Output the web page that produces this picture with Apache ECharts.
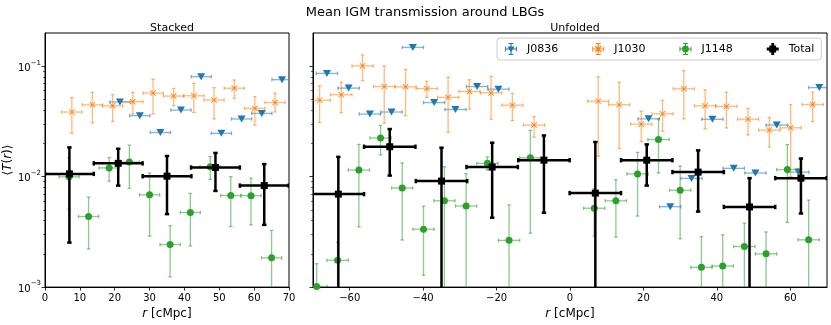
<!DOCTYPE html>
<html>
<head>
<meta charset="utf-8">
<script src="https://cdn.jsdelivr.net/npm/echarts@6/dist/echarts.min.js"></script>
<style>
  html, body { margin: 0; padding: 0; background: #fff; }
  #chart { width: 831px; height: 325px; }
</style>
</head>
<body>
<div id="chart"></div>
<script>
// half bin widths (x errors)
const xerrQso = 2.9
const xerrTotal = 7

// Stacked panel  [r, T]  /  [r, T, lower, upper]
const stackedJ0836 = [[21.5, 0.0475], [27.2, 0.0357], [33.1, 0.0251], [39.0, 0.0401], [44.8, 0.0804], [50.6, 0.0247], [56.4, 0.0333], [62.2, 0.0374], [68.0, 0.0756]]
const stackedJ1030 = [[7.7, 0.0385, 0.0247, 0.052], [13.6, 0.0447, 0.0307, 0.058], [19.4, 0.0438, 0.0316, 0.0553], [25.2, 0.0478, 0.037, 0.058], [31.0, 0.0571, 0.037, 0.0766], [36.9, 0.0537, 0.0439, 0.063], [42.7, 0.054, 0.0382, 0.07], [48.5, 0.0495, 0.0333, 0.064], [54.3, 0.0633, 0.0513, 0.075], [60.2, 0.0415, 0.0293, 0.053], [66.0, 0.0469, 0.0385, 0.0571]]
const stackedJ1148 = [[6.9, 0.00997, 0.00507, 0.0148], [12.5, 0.00436, 0.00221, 0.00653], [18.4, 0.012, 0.0091, 0.0149], [24.2, 0.01355, 0.00785, 0.0193], [30.0, 0.00685, 0.0029, 0.0108], [35.9, 0.00243, 0.00124, 0.0036], [41.7, 0.00474, 0.00236, 0.00706], [47.4, 0.0123, 0.00944, 0.0152], [53.3, 0.00676, 0.00353, 0.01], [59.1, 0.00673, 0.00366, 0.0097], [65.0, 0.00184, 0.0005, 0.00326]]
const stackedTotal = [[7.0, 0.0106, 0.00253, 0.0184], [21.0, 0.0132, 0.0083, 0.0179], [35.0, 0.0101, 0.00458, 0.0154], [48.9, 0.0121, 0.00743, 0.0164], [62.9, 0.0083, 0.00366, 0.013]]

// Unfolded panel
const unfoldedJ0836 = [[-66.2, 0.0861], [-60.3, 0.0634], [-54.5, 0.0369], [-48.6, 0.0385], [-42.8, 0.148], [-37.0, 0.0469], [-31.2, 0.0406], [-25.3, 0.0655], [-19.5, 0.062], [21.4, 0.0334], [27.3, 0.00535], [33.1, 0.00964], [38.8, 0.0331], [44.6, 0.0119], [50.5, 0.0108], [56.3, 0.0293], [62.2, 0.011], [67.9, 0.0641]]
const unfoldedJ1030 = [[-68.2, 0.0492, 0.0309, 0.0664], [-62.3, 0.0552, 0.038, 0.0716], [-56.5, 0.1006, 0.0741, 0.127], [-50.6, 0.0655, 0.0305, 0.1006], [-44.8, 0.0651, 0.0357, 0.0934], [-39.0, 0.0628, 0.0523, 0.0731], [-33.2, 0.0523, 0.0252, 0.0794], [-27.4, 0.0591, 0.0409, 0.0755], [-21.5, 0.0575, 0.0331, 0.081], [-15.7, 0.0444, 0.0322, 0.0568], [-9.8, 0.0293, 0.0228, 0.035],
  [7.7, 0.0482, 0.0153, 0.0803], [13.4, 0.0448, 0.018, 0.0716], [19.4, 0.0299, 0.0207, 0.0393], [25.2, 0.0371, 0.0258, 0.0492], [31.0, 0.0625, 0.0334, 0.091], [36.8, 0.0438, 0.027, 0.0612], [42.6, 0.0433, 0.0276, 0.0583], [48.5, 0.0331, 0.0239, 0.0415], [54.3, 0.0264, 0.0185, 0.0343], [60.1, 0.0277, 0.01, 0.045], [66.1, 0.045, 0.0316, 0.0583]]
const unfoldedJ1148 = [[-69.0, 0.00101, 0.0005, 0.00163], [-63.3, 0.00175, 0.0005, 0.00255], [-57.5, 0.01148, 0.0035, 0.0196], [-51.6, 0.0224, 0.0157, 0.0291], [-45.7, 0.0079, 0.00267, 0.0133], [-39.9, 0.00334, 0.00128, 0.0054], [-34.2, 0.00605, 0.0005, 0.0123], [-28.3, 0.00543, 0.0005, 0.01066], [-22.5, 0.0132, 0.0115, 0.0151], [-16.6, 0.00265, 0.0005, 0.00555], [-10.8, 0.0148, 0.00308, 0.0263],
  [6.6, 0.00518, 0.0029, 0.0078], [12.5, 0.00605, 0.00284, 0.00938], [18.4, 0.0106, 0.0044, 0.0166], [24.1, 0.0217, 0.0108, 0.0334], [30.0, 0.00753, 0.00274, 0.01248], [35.8, 0.00151, 0.0005, 0.00286], [41.6, 0.00155, 0.0005, 0.00298], [47.5, 0.00233, 0.0005, 0.0038], [53.4, 0.002, 0.0005, 0.00316], [59.2, 0.01159, 0.00386, 0.0195], [65.0, 0.00268, 0.0005, 0.00614]]
const unfoldedTotal = [[-63.1, 0.00695, 0.0005, 0.0151], [-49.1, 0.01866, 0.01023, 0.027], [-35.0, 0.00912, 0.0005, 0.0183], [-21.2, 0.01222, 0.00425, 0.0203], [-7.1, 0.0141, 0.00471, 0.0236], [6.9, 0.0071, 0.0005, 0.0206], [20.9, 0.0141, 0.0083, 0.0196], [34.9, 0.011, 0.00483, 0.0173], [48.9, 0.00532, 0.0005, 0.0097], [62.9, 0.0097, 0.00464, 0.0146]]

const stackedTicks = [0, 10, 20, 30, 40, 50, 60, 70]
const unfoldedTicks = [-60, -40, -20, 0, 20, 40, 60]
const yTicks = [0.001, 0.01, 0.1]

const FONT = 'DejaVu Sans'
const colors = { J0836: '#1f77b4', J1030: '#ff7f0e', J1148: '#2ca02c', Total: '#000000' }

const xMarkPath = 'path://M0 1L1 0L5 4L9 0L10 1L6 5L10 9L9 10L5 6L1 10L0 9L4 5Z'
const crossPath = 'M0 5.4H12V6.6H0Z M5.4 0H6.6V12H5.4Z M0 3.6H0.9V8.4H0Z M11.1 3.6H12V8.4H11.1Z M3.6 0H8.4V0.9H3.6Z M3.6 11.1H8.4V12H3.6Z '
const legendIcons = {
  J0836: 'path://' + crossPath + 'M2.4 3.4H9.6L6 9.4Z',
  J1030: 'path://' + crossPath + 'M2.6 3.4L3.4 2.6L6 5.2L8.6 2.6L9.4 3.4L6.8 6L9.4 8.6L8.6 9.4L6 6.8L3.4 9.4L2.6 8.6L5.2 6Z',
  J1148: 'path://' + crossPath + 'M2.6 6A3.4 3.4 0 1 1 9.4 6A3.4 3.4 0 1 1 2.6 6Z',
  Total: 'path://M0 4.6H12V7.4H0Z M4.6 0H7.4V12H4.6Z M2.6 2.6H9.4V9.4H2.6Z'
}

const markers = {
  J0836: { symbol: 'triangle', symbolSize: [8, 7], symbolRotate: 180 },
  J1030: { symbol: xMarkPath, symbolSize: 6 },
  J1148: { symbol: 'circle', symbolSize: 7 },
  Total: { symbol: 'rect', symbolSize: 7 }
}

const toRows = (pts, xe) => pts.map(p => [p[0], p[1], p[0] - xe, p[0] + xe, p.length > 2 ? p[2] : null, p.length > 2 ? p[3] : null])

const errorRender = (lw, cap, opacity) => (params, api) => {
  const x = api.value(0), y = api.value(1)
  const color = api.visual('color')
  const style = { stroke: color, lineWidth: lw, opacity: opacity }
  const l = api.coord([api.value(2), y])
  const r = api.coord([api.value(3), y])
  const children = [
    { type: 'line', shape: { x1: l[0], y1: l[1], x2: r[0], y2: r[1] }, style },
    { type: 'line', shape: { x1: l[0], y1: l[1] - cap, x2: l[0], y2: l[1] + cap }, style },
    { type: 'line', shape: { x1: r[0], y1: r[1] - cap, x2: r[0], y2: r[1] + cap }, style }
  ]
  const lo = api.value(4), hi = api.value(5)
  if (isFinite(lo) && isFinite(hi) && hi > lo) {
    const b = api.coord([x, lo])
    const t = api.coord([x, hi])
    children.push(
      { type: 'line', shape: { x1: b[0], y1: b[1], x2: t[0], y2: t[1] }, style },
      { type: 'line', shape: { x1: b[0] - cap, y1: b[1], x2: b[0] + cap, y2: b[1] }, style },
      { type: 'line', shape: { x1: t[0] - cap, y1: t[1], x2: t[0] + cap, y2: t[1] }, style }
    )
  }
  return { type: 'group', children }
}

const panels = [
  { J0836: stackedJ0836, J1030: stackedJ1030, J1148: stackedJ1148, Total: stackedTotal },
  { J0836: unfoldedJ0836, J1030: unfoldedJ1030, J1148: unfoldedJ1148, Total: unfoldedTotal }
]
const names = ['J0836', 'J1030', 'J1148', 'Total']

const series = []
panels.forEach((panel, pi) => {
  names.forEach((name, ni) => {
    const isTotal = name === 'Total'
    const rows = toRows(panel[name], isTotal ? xerrTotal : xerrQso)
    series.push({
      name,
      type: 'scatter',
      xAxisIndex: pi,
      yAxisIndex: pi,
      z: 3 + ni * 2,
      data: rows.map(r => [r[0], r[1]]),
      itemStyle: { color: colors[name], opacity: 1 },
      ...markers[name],
      emphasis: { disabled: true }
    })
    series.push({
      name,
      type: 'custom',
      xAxisIndex: pi,
      yAxisIndex: pi,
      z: 2 + ni * 2,
      clip: true,
      data: rows,
      itemStyle: { color: colors[name] },
      renderItem: isTotal ? errorRender(2.5, 2.2, 1) : errorRender(1.3, 1.8, 0.55)
    })
  })
})

const grids = [
  { left: 45, top: 33, width: 244, height: 259 },
  { left: 313, top: 33, width: 514, height: 259 }
]

const tickFmt = v => String(v).replace('-', '\u2212')
const logFmt = v => {
  const e = Math.log10(v)
  if (Math.abs(e - Math.round(e)) > 1e-6) return ''
  return '{b|10}{s|\u2212' + Math.abs(Math.round(e)) + '}'
}

const makeX = (gi, min, max, ticks) => ({
  type: 'value',
  gridIndex: gi,
  min, max,
  name: '{i|r} [cMpc]',
  nameLocation: 'middle',
  nameGap: 15,
  nameTextStyle: {
    fontFamily: FONT, fontSize: 12, color: '#000', verticalAlign: 'top',
    rich: { i: { fontFamily: FONT, fontSize: 12, fontStyle: 'italic', color: '#000' } }
  },
  axisLine: { onZero: false, lineStyle: { color: '#000', width: 1 } },
  axisTick: { show: true, length: 3.5, lineStyle: { color: '#000', width: 0.8 }, customValues: ticks },
  axisLabel: { fontFamily: FONT, fontSize: 10, color: '#000', margin: 6, formatter: tickFmt, customValues: ticks },
  splitLine: { show: false }
})

const makeY = (gi, showLabel) => ({
  type: 'log',
  logBase: 10,
  gridIndex: gi,
  min: 0.001,
  max: 0.2,
  name: showLabel ? '\u27e8{i|T}({i|r})\u27e9' : '',
  nameLocation: 'middle',
  nameGap: 30,
  nameTextStyle: {
    fontFamily: FONT, fontSize: 12, color: '#000',
    rich: { i: { fontFamily: FONT, fontSize: 12, fontStyle: 'italic', color: '#000' } }
  },
  axisLine: { onZero: false, lineStyle: { color: '#000', width: 1 } },
  axisTick: { show: true, length: 3.5, lineStyle: { color: '#000', width: 0.8 }, customValues: yTicks },
  minorTick: { show: true, splitNumber: 9, length: 2, lineStyle: { color: '#000', width: 0.6 } },
  axisLabel: {
    show: showLabel,
    customValues: yTicks,
    margin: 4,
    formatter: logFmt,
    rich: {
      b: { fontFamily: FONT, fontSize: 10, color: '#000', verticalAlign: 'bottom', lineHeight: 14 },
      s: { fontFamily: FONT, fontSize: 7, color: '#000', verticalAlign: 'top', lineHeight: 14 }
    }
  },
  splitLine: { show: false },
  minorSplitLine: { show: false }
})

const chart = echarts.init(document.getElementById('chart'), null, { renderer: 'canvas' })

chart.setOption({
  animation: false,
  backgroundColor: '#fff',
  title: [
    { text: 'Mean IGM transmission around LBGs', left: 420, top: 1, textAlign: 'center',
      textStyle: { fontFamily: FONT, fontSize: 13, fontWeight: 'normal', color: '#000' } },
    { text: 'Stacked', left: 167, top: 18, textAlign: 'center',
      textStyle: { fontFamily: FONT, fontSize: 11, fontWeight: 'normal', color: '#000' } },
    { text: 'Unfolded', left: 570, top: 18, textAlign: 'center',
      textStyle: { fontFamily: FONT, fontSize: 11, fontWeight: 'normal', color: '#000' } }
  ],
  legend: {
    left: 497,
    top: 38,
    z: 20,
    itemWidth: 12,
    itemHeight: 12,
    itemGap: 34,
    padding: [5, 7, 5, 8],
    borderColor: '#cccccc',
    borderWidth: 1,
    borderRadius: 3,
    backgroundColor: 'rgba(255,255,255,0.8)',
    textStyle: { fontFamily: FONT, fontSize: 11, color: '#000', padding: [0, 0, 0, 5] },
    data: names.map(n => ({ name: n, icon: legendIcons[n], itemStyle: { color: colors[n] } }))
  },
  grid: grids.map(g => ({ ...g, show: true, borderColor: '#000', borderWidth: 1, backgroundColor: 'transparent' })),
  xAxis: [makeX(0, 0, 70, stackedTicks), makeX(1, -70, 70, unfoldedTicks)],
  yAxis: [makeY(0, true), makeY(1, false)],
  series
})
</script>
</body>
</html>
